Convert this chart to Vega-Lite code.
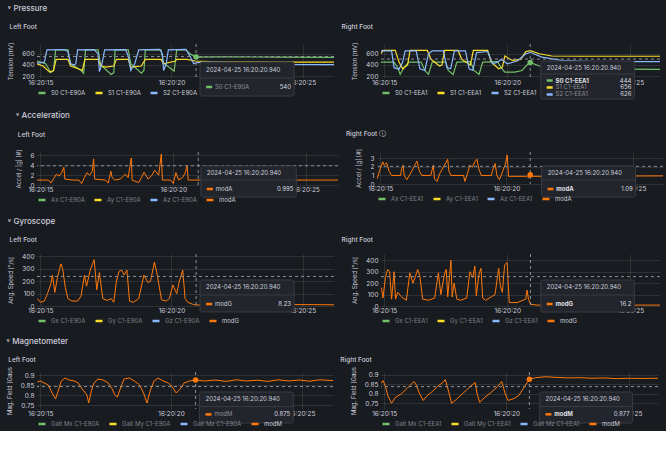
{
"$schema": "https://vega.github.io/schema/vega-lite/v6.json",
"padding": {"left": 6, "top": 4, "right": 2, "bottom": 2},
"background": "#181b1f",
"spacing": 12,
"datasets": {
"one": [{}],
"pl": [
{"s":"S0","t":14.87,"v":470},{"s":"S0","t":15.2,"v":420},{"s":"S0","t":15.4,"v":260},{"s":"S0","t":15.5,"v":300},{"s":"S0","t":15.58,"v":670},{"s":"S0","t":16.05,"v":670},{"s":"S0","t":16.15,"v":420},{"s":"S0","t":16.55,"v":300},{"s":"S0","t":16.65,"v":250},{"s":"S0","t":16.72,"v":670},{"s":"S0","t":17.2,"v":670},{"s":"S0","t":17.3,"v":400},{"s":"S0","t":17.7,"v":230},{"s":"S0","t":17.8,"v":260},{"s":"S0","t":17.85,"v":670},{"s":"S0","t":18.35,"v":670},{"s":"S0","t":18.45,"v":420},{"s":"S0","t":18.85,"v":250},{"s":"S0","t":18.95,"v":300},{"s":"S0","t":19.0,"v":670},{"s":"S0","t":19.6,"v":670},{"s":"S0","t":19.7,"v":430},{"s":"S0","t":20.1,"v":290},{"s":"S0","t":20.2,"v":670},{"s":"S0","t":20.55,"v":670},{"s":"S0","t":20.7,"v":600},{"s":"S0","t":20.94,"v":540},{"s":"S0","t":22,"v":545},{"s":"S0","t":24,"v":540},{"s":"S0","t":26.2,"v":535},
{"s":"S1","t":14.87,"v":420},{"s":"S1","t":15.1,"v":380},{"s":"S1","t":15.35,"v":270},{"s":"S1","t":15.5,"v":300},{"s":"S1","t":15.6,"v":500},{"s":"S1","t":16.05,"v":500},{"s":"S1","t":16.15,"v":380},{"s":"S1","t":16.45,"v":330},{"s":"S1","t":16.6,"v":300},{"s":"S1","t":16.7,"v":500},{"s":"S1","t":17.2,"v":500},{"s":"S1","t":17.3,"v":380},{"s":"S1","t":17.5,"v":360},{"s":"S1","t":17.8,"v":380},{"s":"S1","t":17.9,"v":500},{"s":"S1","t":18.35,"v":500},{"s":"S1","t":18.45,"v":360},{"s":"S1","t":18.85,"v":380},{"s":"S1","t":19.0,"v":500},{"s":"S1","t":19.6,"v":500},{"s":"S1","t":19.7,"v":420},{"s":"S1","t":20.15,"v":470},{"s":"S1","t":20.2,"v":500},{"s":"S1","t":20.6,"v":500},{"s":"S1","t":20.9,"v":470},{"s":"S1","t":21.5,"v":460},{"s":"S1","t":24,"v":450},{"s":"S1","t":26.2,"v":450},
{"s":"S2","t":14.87,"v":430},{"s":"S2","t":15.15,"v":450},{"s":"S2","t":15.25,"v":670},{"s":"S2","t":15.9,"v":675},{"s":"S2","t":16.05,"v":640},{"s":"S2","t":16.15,"v":420},{"s":"S2","t":16.3,"v":400},{"s":"S2","t":16.35,"v":420},{"s":"S2","t":16.42,"v":670},{"s":"S2","t":17.05,"v":675},{"s":"S2","t":17.2,"v":600},{"s":"S2","t":17.25,"v":280},{"s":"S2","t":17.35,"v":420},{"s":"S2","t":17.45,"v":670},{"s":"S2","t":18.25,"v":675},{"s":"S2","t":18.35,"v":560},{"s":"S2","t":18.45,"v":300},{"s":"S2","t":18.6,"v":420},{"s":"S2","t":18.75,"v":670},{"s":"S2","t":19.55,"v":680},{"s":"S2","t":19.65,"v":600},{"s":"S2","t":19.7,"v":300},{"s":"S2","t":19.8,"v":420},{"s":"S2","t":19.88,"v":670},{"s":"S2","t":20.55,"v":680},{"s":"S2","t":20.7,"v":560},{"s":"S2","t":20.85,"v":420},{"s":"S2","t":20.95,"v":440},{"s":"S2","t":21.5,"v":450},{"s":"S2","t":22.5,"v":440},{"s":"S2","t":24,"v":410},{"s":"S2","t":26.2,"v":405}
],
"pr": [
{"s":"S0","t":14.87,"v":450},{"s":"S0","t":15.4,"v":450},{"s":"S0","t":15.55,"v":350},{"s":"S0","t":15.65,"v":230},{"s":"S0","t":15.8,"v":350},{"s":"S0","t":16.0,"v":450},{"s":"S0","t":16.5,"v":450},{"s":"S0","t":16.65,"v":300},{"s":"S0","t":16.8,"v":230},{"s":"S0","t":16.95,"v":450},{"s":"S0","t":17.5,"v":450},{"s":"S0","t":17.6,"v":300},{"s":"S0","t":17.8,"v":230},{"s":"S0","t":17.95,"v":450},{"s":"S0","t":18.5,"v":460},{"s":"S0","t":18.65,"v":300},{"s":"S0","t":18.85,"v":230},{"s":"S0","t":19.0,"v":450},{"s":"S0","t":19.6,"v":460},{"s":"S0","t":19.75,"v":350},{"s":"S0","t":19.9,"v":270},{"s":"S0","t":20.3,"v":270},{"s":"S0","t":20.6,"v":300},{"s":"S0","t":20.8,"v":400},{"s":"S0","t":20.93,"v":444},{"s":"S0","t":21.3,"v":380},{"s":"S0","t":22,"v":350},{"s":"S0","t":23.5,"v":330},{"s":"S0","t":26.2,"v":320},
{"s":"S1","t":14.87,"v":600},{"s":"S1","t":14.95,"v":660},{"s":"S1","t":15.45,"v":660},{"s":"S1","t":15.6,"v":450},{"s":"S1","t":15.75,"v":330},{"s":"S1","t":15.95,"v":400},{"s":"S1","t":16.05,"v":660},{"s":"S1","t":16.75,"v":660},{"s":"S1","t":16.9,"v":500},{"s":"S1","t":17.25,"v":380},{"s":"S1","t":17.35,"v":400},{"s":"S1","t":17.45,"v":660},{"s":"S1","t":18.0,"v":660},{"s":"S1","t":18.15,"v":500},{"s":"S1","t":18.5,"v":400},{"s":"S1","t":18.62,"v":660},{"s":"S1","t":19.2,"v":660},{"s":"S1","t":19.35,"v":450},{"s":"S1","t":19.65,"v":330},{"s":"S1","t":19.8,"v":360},{"s":"S1","t":19.9,"v":560},{"s":"S1","t":20.2,"v":480},{"s":"S1","t":20.55,"v":500},{"s":"S1","t":20.75,"v":640},{"s":"S1","t":20.93,"v":656},{"s":"S1","t":21.3,"v":600},{"s":"S1","t":21.8,"v":560},{"s":"S1","t":23,"v":555},{"s":"S1","t":26.2,"v":555},
{"s":"S2","t":14.87,"v":650},{"s":"S2","t":15.3,"v":650},{"s":"S2","t":15.4,"v":350},{"s":"S2","t":15.6,"v":320},{"s":"S2","t":15.75,"v":450},{"s":"S2","t":15.85,"v":650},{"s":"S2","t":16.3,"v":650},{"s":"S2","t":16.45,"v":330},{"s":"S2","t":16.65,"v":300},{"s":"S2","t":16.8,"v":600},{"s":"S2","t":16.95,"v":650},{"s":"S2","t":17.4,"v":650},{"s":"S2","t":17.55,"v":350},{"s":"S2","t":17.7,"v":330},{"s":"S2","t":17.85,"v":650},{"s":"S2","t":18.3,"v":650},{"s":"S2","t":18.45,"v":330},{"s":"S2","t":18.6,"v":300},{"s":"S2","t":18.75,"v":620},{"s":"S2","t":19.2,"v":640},{"s":"S2","t":19.4,"v":420},{"s":"S2","t":19.6,"v":450},{"s":"S2","t":19.75,"v":500},{"s":"S2","t":20.0,"v":420},{"s":"S2","t":20.4,"v":470},{"s":"S2","t":20.75,"v":600},{"s":"S2","t":20.93,"v":626},{"s":"S2","t":21.4,"v":540},{"s":"S2","t":22.2,"v":480},{"s":"S2","t":23.5,"v":460},{"s":"S2","t":26.2,"v":460}
],
"al": [
{"t":14.87,"modA":1.0},{"t":15.3,"modA":1.0},{"t":15.4,"modA":0.4},{"t":15.5,"modA":1.3},{"t":15.6,"modA":2.2},{"t":15.7,"modA":1.8},{"t":15.8,"modA":2.5},{"t":15.88,"modA":3.6},{"t":15.92,"modA":1.2},{"t":16.2,"modA":1.0},{"t":16.45,"modA":1.0},{"t":16.55,"modA":0.3},{"t":16.65,"modA":1.5},{"t":16.75,"modA":2.5},{"t":16.85,"modA":2.0},{"t":16.95,"modA":2.8},{"t":17.0,"modA":5.3},{"t":17.04,"modA":1.2},{"t":17.45,"modA":1.0},{"t":17.55,"modA":0.4},{"t":17.65,"modA":2.8},{"t":17.7,"modA":1.5},{"t":17.8,"modA":1.0},{"t":18.0,"modA":1.2},{"t":18.2,"modA":2.2},{"t":18.3,"modA":1.5},{"t":18.42,"modA":5.5},{"t":18.45,"modA":1.0},{"t":18.7,"modA":0.5},{"t":18.8,"modA":1.5},{"t":18.9,"modA":2.6},{"t":19.05,"modA":1.2},{"t":19.2,"modA":2.0},{"t":19.3,"modA":3.0},{"t":19.45,"modA":2.0},{"t":19.55,"modA":6.3},{"t":19.59,"modA":1.0},{"t":19.9,"modA":1.0},{"t":20.0,"modA":0.3},{"t":20.1,"modA":2.5},{"t":20.2,"modA":1.0},{"t":20.35,"modA":1.5},{"t":20.45,"modA":2.5},{"t":20.52,"modA":3.9},{"t":20.56,"modA":1.0},{"t":26.2,"modA":1.0}
],
"ar": [
{"t":14.87,"modA":0.6},{"t":15.0,"modA":1.8},{"t":15.1,"modA":2.6},{"t":15.15,"modA":2.2},{"t":15.25,"modA":2.5},{"t":15.35,"modA":1.5},{"t":15.45,"modA":1.0},{"t":15.8,"modA":1.0},{"t":15.85,"modA":1.8},{"t":15.9,"modA":2.2},{"t":15.95,"modA":1.0},{"t":16.05,"modA":0.5},{"t":16.15,"modA":1.0},{"t":16.3,"modA":1.8},{"t":16.4,"modA":2.4},{"t":16.45,"modA":2.7},{"t":16.55,"modA":1.5},{"t":16.65,"modA":1.0},{"t":17.0,"modA":1.0},{"t":17.05,"modA":1.6},{"t":17.1,"modA":2.2},{"t":17.15,"modA":0.6},{"t":17.25,"modA":0.3},{"t":17.35,"modA":1.2},{"t":17.5,"modA":2.0},{"t":17.6,"modA":2.5},{"t":17.67,"modA":2.9},{"t":17.72,"modA":1.5},{"t":17.8,"modA":1.0},{"t":18.3,"modA":1.0},{"t":18.35,"modA":0.3},{"t":18.45,"modA":1.2},{"t":18.55,"modA":2.2},{"t":18.65,"modA":2.0},{"t":18.75,"modA":2.6},{"t":18.83,"modA":2.9},{"t":18.9,"modA":1.8},{"t":19.0,"modA":1.0},{"t":19.4,"modA":1.0},{"t":19.45,"modA":1.6},{"t":19.55,"modA":2.4},{"t":19.62,"modA":1.0},{"t":19.72,"modA":0.5},{"t":19.85,"modA":1.5},{"t":19.95,"modA":2.3},{"t":20.03,"modA":3.4},{"t":20.08,"modA":0.9},{"t":20.8,"modA":0.9},{"t":20.88,"modA":0.7},{"t":20.94,"modA":1.09},{"t":21.0,"modA":0.9},{"t":26.2,"modA":0.95}
],
"gl": [
{"t":14.88,"modG":60},{"t":15.0,"modG":30},{"t":15.15,"modG":40},{"t":15.27,"modG":100},{"t":15.4,"modG":180},{"t":15.46,"modG":250},{"t":15.55,"modG":110},{"t":15.65,"modG":230},{"t":15.78,"modG":340},{"t":15.85,"modG":300},{"t":15.95,"modG":150},{"t":16.05,"modG":60},{"t":16.2,"modG":40},{"t":16.42,"modG":40},{"t":16.55,"modG":80},{"t":16.68,"modG":250},{"t":16.76,"modG":160},{"t":16.9,"modG":290},{"t":17.05,"modG":375},{"t":17.15,"modG":130},{"t":17.25,"modG":270},{"t":17.38,"modG":60},{"t":17.55,"modG":45},{"t":17.7,"modG":60},{"t":17.8,"modG":30},{"t":17.9,"modG":200},{"t":18.0,"modG":280},{"t":18.1,"modG":290},{"t":18.2,"modG":250},{"t":18.3,"modG":290},{"t":18.4,"modG":40},{"t":18.55,"modG":30},{"t":18.75,"modG":60},{"t":18.95,"modG":250},{"t":19.1,"modG":190},{"t":19.2,"modG":200},{"t":19.35,"modG":355},{"t":19.45,"modG":260},{"t":19.62,"modG":50},{"t":19.8,"modG":40},{"t":19.92,"modG":60},{"t":20.05,"modG":170},{"t":20.2,"modG":100},{"t":20.3,"modG":200},{"t":20.43,"modG":290},{"t":20.52,"modG":60},{"t":20.62,"modG":30},{"t":20.8,"modG":15},{"t":20.94,"modG":8},{"t":22,"modG":10},{"t":24,"modG":12},{"t":26.2,"modG":10}
],
"gr": [
{"t":14.89,"modG":160},{"t":14.95,"modG":70},{"t":15.05,"modG":250},{"t":15.14,"modG":320},{"t":15.22,"modG":300},{"t":15.3,"modG":60},{"t":15.4,"modG":300},{"t":15.46,"modG":60},{"t":15.55,"modG":120},{"t":15.7,"modG":80},{"t":15.9,"modG":50},{"t":16.04,"modG":290},{"t":16.17,"modG":200},{"t":16.3,"modG":280},{"t":16.36,"modG":320},{"t":16.45,"modG":260},{"t":16.56,"modG":60},{"t":16.8,"modG":50},{"t":17.05,"modG":70},{"t":17.2,"modG":290},{"t":17.3,"modG":100},{"t":17.45,"modG":280},{"t":17.52,"modG":320},{"t":17.58,"modG":80},{"t":17.71,"modG":400},{"t":17.76,"modG":80},{"t":17.84,"modG":200},{"t":17.95,"modG":60},{"t":18.1,"modG":50},{"t":18.35,"modG":70},{"t":18.48,"modG":300},{"t":18.6,"modG":250},{"t":18.68,"modG":350},{"t":18.74,"modG":90},{"t":18.85,"modG":280},{"t":18.93,"modG":330},{"t":19.0,"modG":70},{"t":19.12,"modG":50},{"t":19.5,"modG":100},{"t":19.65,"modG":330},{"t":19.72,"modG":170},{"t":19.8,"modG":120},{"t":19.89,"modG":360},{"t":19.99,"modG":380},{"t":20.08,"modG":30},{"t":20.4,"modG":30},{"t":20.75,"modG":60},{"t":20.8,"modG":140},{"t":20.86,"modG":60},{"t":20.94,"modG":16},{"t":21.2,"modG":8},{"t":26.2,"modG":8}
],
"ml": [
{"t":14.88,"modM":0.865},{"t":15.0,"modM":0.87},{"t":15.15,"modM":0.86},{"t":15.3,"modM":0.85},{"t":15.45,"modM":0.81},{"t":15.58,"modM":0.78},{"t":15.68,"modM":0.82},{"t":15.8,"modM":0.87},{"t":15.95,"modM":0.885},{"t":16.1,"modM":0.875},{"t":16.3,"modM":0.87},{"t":16.45,"modM":0.86},{"t":16.6,"modM":0.83},{"t":16.78,"modM":0.8},{"t":16.85,"modM":0.76},{"t":16.95,"modM":0.82},{"t":17.05,"modM":0.86},{"t":17.2,"modM":0.88},{"t":17.4,"modM":0.875},{"t":17.6,"modM":0.86},{"t":17.75,"modM":0.83},{"t":17.85,"modM":0.8},{"t":17.95,"modM":0.79},{"t":18.08,"modM":0.84},{"t":18.2,"modM":0.88},{"t":18.4,"modM":0.885},{"t":18.6,"modM":0.87},{"t":18.8,"modM":0.85},{"t":18.95,"modM":0.81},{"t":19.08,"modM":0.76},{"t":19.2,"modM":0.82},{"t":19.35,"modM":0.87},{"t":19.5,"modM":0.885},{"t":19.7,"modM":0.87},{"t":19.9,"modM":0.86},{"t":20.05,"modM":0.84},{"t":20.2,"modM":0.81},{"t":20.35,"modM":0.83},{"t":20.5,"modM":0.86},{"t":20.7,"modM":0.87},{"t":20.94,"modM":0.875},{"t":21.3,"modM":0.87},{"t":21.7,"modM":0.875},{"t":22.1,"modM":0.868},{"t":22.5,"modM":0.876},{"t":22.9,"modM":0.87},{"t":23.3,"modM":0.874},{"t":23.7,"modM":0.868},{"t":24.1,"modM":0.876},{"t":24.5,"modM":0.87},{"t":24.9,"modM":0.875},{"t":25.3,"modM":0.869},{"t":25.7,"modM":0.876},{"t":26.2,"modM":0.872}
],
"mr": [
{"t":14.87,"modM":0.855},{"t":14.95,"modM":0.87},{"t":15.05,"modM":0.84},{"t":15.15,"modM":0.79},{"t":15.3,"modM":0.75},{"t":15.45,"modM":0.78},{"t":15.7,"modM":0.8},{"t":15.95,"modM":0.83},{"t":16.1,"modM":0.85},{"t":16.22,"modM":0.865},{"t":16.3,"modM":0.85},{"t":16.45,"modM":0.8},{"t":16.6,"modM":0.765},{"t":16.75,"modM":0.79},{"t":16.95,"modM":0.81},{"t":17.2,"modM":0.84},{"t":17.4,"modM":0.86},{"t":17.5,"modM":0.875},{"t":17.6,"modM":0.83},{"t":17.76,"modM":0.75},{"t":17.95,"modM":0.77},{"t":18.2,"modM":0.8},{"t":18.45,"modM":0.83},{"t":18.72,"modM":0.86},{"t":18.8,"modM":0.8},{"t":18.91,"modM":0.755},{"t":19.1,"modM":0.78},{"t":19.4,"modM":0.81},{"t":19.65,"modM":0.84},{"t":19.81,"modM":0.865},{"t":19.95,"modM":0.8},{"t":20.07,"modM":0.765},{"t":20.3,"modM":0.775},{"t":20.5,"modM":0.79},{"t":20.7,"modM":0.83},{"t":20.94,"modM":0.877},{"t":21.2,"modM":0.885},{"t":21.6,"modM":0.89},{"t":22.0,"modM":0.887},{"t":22.5,"modM":0.884},{"t":23.0,"modM":0.885},{"t":23.5,"modM":0.882},{"t":24.0,"modM":0.884},{"t":24.5,"modM":0.88},{"t":25.0,"modM":0.882},{"t":25.5,"modM":0.881},{"t":26.2,"modM":0.882}
]
},
"resolve": {"scale": {"color": "independent"}, "legend": {"color": "independent"}},
"vconcat": [
{
"title": {"text": "˅  Pressure", "fontSize": 8, "fontWeight": 500, "offset": 11},
"spacing": 6,
"resolve": {"scale": {"color": "independent"}, "legend": {"color": "independent"}},
"hconcat": [
{"title": {"text": "Left Foot", "dx": 2}, "width": 297, "height": 34,
 "layer": [
  {"data": {"name": "pl"}, "mark": {"type": "line", "strokeWidth": 1.2, "clip": true},
   "encoding": {
    "x": {"field": "t", "type": "quantitative", "scale": {"domain": [14.87, 26.2], "nice": false, "zero": false}, "axis": {"values": [15, 20, 25], "labelExpr": "'16:20:' + datum.value", "title": null}},
    "y": {"field": "v", "type": "quantitative", "scale": {"domain": [165, 775], "nice": false, "zero": false}, "axis": {"values": [200, 400, 600], "tickCount": 10, "format": "d", "labelOverlap": false, "title": "Tension [mV]"}},
    "color": {"field": "s", "type": "nominal", "scale": {"domain": ["S0", "S1", "S2"], "range": ["#73BF69", "#FADE2A", "#8AB8FF"]}, "legend": {"labelExpr": "datum.label + ' C1-E90A'"}}}},
  {"data": {"name": "one"}, "mark": {"type": "rule", "strokeDash": [3, 3], "color": "#8e9097", "strokeWidth": 1}, "encoding": {"x": {"datum": 20.94}}},
  {"data": {"name": "one"}, "mark": {"type": "rule", "strokeDash": [3, 3], "color": "#8e9097", "strokeWidth": 1}, "encoding": {"y": {"datum": 550}}},
  {"data": {"name": "one"}, "mark": {"type": "point", "filled": true, "size": 30, "color": "#73BF69", "opacity": 1}, "encoding": {"x": {"datum": 20.94}, "y": {"datum": 540}}},
  {"data": {"name": "one"}, "mark": {"type": "rect", "fill": "#22252b", "stroke": "#393c43", "strokeWidth": 1, "cornerRadius": 2, "zindex": 1}, "encoding": {"x": {"datum": 21.09}, "x2": {"datum": 24.68}, "y": {"datum": 452}, "y2": {"datum": -158}}},
  {"data": {"name": "one"}, "mark": {"type": "text", "text": "2024-04-25 16:20:20.940", "align": "left", "baseline": "middle", "fontSize": 6, "color": "#ccccdc", "zindex": 1}, "encoding": {"x": {"datum": 21.32}, "y": {"datum": 309}}},
  {"data": {"name": "one"}, "mark": {"type": "rule", "color": "#393c43", "strokeWidth": 1, "zindex": 1}, "encoding": {"x": {"datum": 21.09}, "x2": {"datum": 24.68}, "y": {"datum": 165}}},
  {"data": {"name": "one"}, "mark": {"type": "rule", "color": "#73BF69", "strokeWidth": 2.5, "zindex": 1}, "encoding": {"x": {"datum": 21.32}, "x2": {"datum": 21.55}, "y": {"datum": 4}}},
  {"data": {"name": "one"}, "mark": {"type": "text", "text": "S0 C1-E90A", "align": "left", "baseline": "middle", "fontSize": 6, "color": "#8e9097", "zindex": 1}, "encoding": {"x": {"datum": 21.66}, "y": {"datum": 4}}},
  {"data": {"name": "one"}, "mark": {"type": "text", "text": "540", "align": "right", "baseline": "middle", "fontSize": 6, "color": "#d8d9e0", "zindex": 1}, "encoding": {"x": {"datum": 24.56}, "y": {"datum": 4}}}
 ]},
{"title": {"text": "Right Foot", "dx": -10}, "width": 279, "height": 34,
 "layer": [
  {"data": {"name": "pr"}, "mark": {"type": "line", "strokeWidth": 1.2, "clip": true},
   "encoding": {
    "x": {"field": "t", "type": "quantitative", "scale": {"domain": [14.87, 26.2], "nice": false, "zero": false}, "axis": {"values": [15, 20, 25], "labelExpr": "'16:20:' + datum.value", "title": null}},
    "y": {"field": "v", "type": "quantitative", "scale": {"domain": [165, 775], "nice": false, "zero": false}, "axis": {"values": [200, 400, 600], "tickCount": 10, "format": "d", "labelOverlap": false, "title": "Tension [mV]"}},
    "color": {"field": "s", "type": "nominal", "scale": {"domain": ["S0", "S1", "S2"], "range": ["#73BF69", "#FADE2A", "#8AB8FF"]}, "legend": {"labelExpr": "datum.label + ' C1-EEA1'"}}}},
  {"data": {"name": "one"}, "mark": {"type": "rule", "strokeDash": [3, 3], "color": "#8e9097", "strokeWidth": 1}, "encoding": {"x": {"datum": 20.93}}},
  {"data": {"name": "one"}, "mark": {"type": "rule", "strokeDash": [3, 3], "color": "#8e9097", "strokeWidth": 1}, "encoding": {"y": {"datum": 505}}},
  {"data": {"name": "one"}, "mark": {"type": "point", "filled": true, "size": 30, "color": "#73BF69", "opacity": 1}, "encoding": {"x": {"datum": 20.93}, "y": {"datum": 444}}},
  {"data": {"name": "one"}, "mark": {"type": "rect", "fill": "#22252b", "stroke": "#393c43", "strokeWidth": 1, "cornerRadius": 2, "zindex": 1}, "encoding": {"x": {"datum": 21.36}, "x2": {"datum": 25.16}, "y": {"datum": 470}, "y2": {"datum": -212}}},
  {"data": {"name": "one"}, "mark": {"type": "text", "text": "2024-04-25 16:20:20.940", "align": "left", "baseline": "middle", "fontSize": 6, "color": "#ccccdc", "zindex": 1}, "encoding": {"x": {"datum": 21.6}, "y": {"datum": 344}}},
  {"data": {"name": "one"}, "mark": {"type": "rule", "color": "#393c43", "strokeWidth": 1, "zindex": 1}, "encoding": {"x": {"datum": 21.36}, "x2": {"datum": 25.16}, "y": {"datum": 237}}},
  {"data": {"name": "one"}, "mark": {"type": "rule", "color": "#73BF69", "strokeWidth": 2.5, "zindex": 1}, "encoding": {"x": {"datum": 21.6}, "x2": {"datum": 21.84}, "y": {"datum": 120}}},
  {"data": {"name": "one"}, "mark": {"type": "text", "text": "S0 C1-EEA1", "align": "left", "baseline": "middle", "fontSize": 6, "fontWeight": "bold", "color": "#e0e0e8", "zindex": 1}, "encoding": {"x": {"datum": 21.96}, "y": {"datum": 120}}},
  {"data": {"name": "one"}, "mark": {"type": "text", "text": "444", "align": "right", "baseline": "middle", "fontSize": 6, "color": "#d8d9e0", "zindex": 1}, "encoding": {"x": {"datum": 25.04}, "y": {"datum": 120}}},
  {"data": {"name": "one"}, "mark": {"type": "rule", "color": "#FADE2A", "strokeWidth": 2.5, "zindex": 1}, "encoding": {"x": {"datum": 21.6}, "x2": {"datum": 21.84}, "y": {"datum": -5}}},
  {"data": {"name": "one"}, "mark": {"type": "text", "text": "S1 C1-EEA1", "align": "left", "baseline": "middle", "fontSize": 6, "color": "#8e9097", "zindex": 1}, "encoding": {"x": {"datum": 21.96}, "y": {"datum": -5}}},
  {"data": {"name": "one"}, "mark": {"type": "text", "text": "656", "align": "right", "baseline": "middle", "fontSize": 6, "color": "#d8d9e0", "zindex": 1}, "encoding": {"x": {"datum": 25.04}, "y": {"datum": -5}}},
  {"data": {"name": "one"}, "mark": {"type": "rule", "color": "#8AB8FF", "strokeWidth": 2.5, "zindex": 1}, "encoding": {"x": {"datum": 21.6}, "x2": {"datum": 21.84}, "y": {"datum": -131}}},
  {"data": {"name": "one"}, "mark": {"type": "text", "text": "S2 C1-EEA1", "align": "left", "baseline": "middle", "fontSize": 6, "color": "#8e9097", "zindex": 1}, "encoding": {"x": {"datum": 21.96}, "y": {"datum": -131}}},
  {"data": {"name": "one"}, "mark": {"type": "text", "text": "626", "align": "right", "baseline": "middle", "fontSize": 6, "color": "#d8d9e0", "zindex": 1}, "encoding": {"x": {"datum": 25.04}, "y": {"datum": -131}}}
 ]}
]},
{
"title": {"text": "˅  Acceleration", "fontSize": 8, "fontWeight": 500, "offset": 11},
"spacing": 6,
"resolve": {"scale": {"color": "independent"}, "legend": {"color": "independent"}},
"hconcat": [
{"title": {"text": "Left Foot", "dx": 2, "offset": 9}, "width": 301, "height": 33,
 "layer": [
  {"data": {"name": "al"}, "transform": [{"fold": ["modA"], "as": ["s", "v"]}], "mark": {"type": "line", "strokeWidth": 1, "clip": true},
   "encoding": {
    "x": {"field": "t", "type": "quantitative", "scale": {"domain": [14.87, 26.2], "nice": false, "zero": false}, "axis": {"values": [15, 20, 25], "labelExpr": "'16:20:' + datum.value", "title": null}},
    "y": {"field": "v", "type": "quantitative", "scale": {"domain": [0, 6.7], "nice": false, "zero": false}, "axis": {"values": [0, 2, 4, 6], "tickCount": 10, "format": "d", "labelOverlap": false, "title": "Accel / |g|   [#]"}},
    "color": {"field": "s", "type": "nominal", "scale": {"domain": ["Ax C1-E90A", "Ay C1-E90A", "Az C1-E90A", "modA"], "range": ["#73BF69", "#FADE2A", "#8AB8FF", "#FF780A"]}, "legend": {"encode": {"labels": {"update": {"fill": {"signal": "datum.value == 'modA' ? '#ccccdc' : '#7f828a'"}}}}}}}},
  {"data": {"name": "one"}, "mark": {"type": "rule", "strokeDash": [3, 3], "color": "#8e9097", "strokeWidth": 1}, "encoding": {"x": {"datum": 20.94}}},
  {"data": {"name": "one"}, "mark": {"type": "rule", "strokeDash": [3, 3], "color": "#8e9097", "strokeWidth": 1}, "encoding": {"y": {"datum": 3.9}}},
  {"data": {"name": "one"}, "mark": {"type": "rect", "fill": "#22252b", "stroke": "#393c43", "strokeWidth": 1, "cornerRadius": 2, "zindex": 1}, "encoding": {"x": {"datum": 21.04}, "x2": {"datum": 24.63}, "y": {"datum": 3.85}, "y2": {"datum": -2.44}}},
  {"data": {"name": "one"}, "mark": {"type": "text", "text": "2024-04-25 16:20:20.940", "align": "left", "baseline": "middle", "fontSize": 6, "color": "#ccccdc", "zindex": 1}, "encoding": {"x": {"datum": 21.26}, "y": {"datum": 2.43}}},
  {"data": {"name": "one"}, "mark": {"type": "rule", "color": "#393c43", "strokeWidth": 1, "zindex": 1}, "encoding": {"x": {"datum": 21.04}, "x2": {"datum": 24.63}, "y": {"datum": 1.01}}},
  {"data": {"name": "one"}, "mark": {"type": "rule", "color": "#FF780A", "strokeWidth": 2.5, "zindex": 1}, "encoding": {"x": {"datum": 21.26}, "x2": {"datum": 21.49}, "y": {"datum": -0.82}}},
  {"data": {"name": "one"}, "mark": {"type": "text", "text": "modA", "align": "left", "baseline": "middle", "fontSize": 6, "color": "#ccccdc", "zindex": 1}, "encoding": {"x": {"datum": 21.6}, "y": {"datum": -0.82}}},
  {"data": {"name": "one"}, "mark": {"type": "text", "text": "0.995", "align": "right", "baseline": "middle", "fontSize": 6, "color": "#d8d9e0", "zindex": 1}, "encoding": {"x": {"datum": 24.52}, "y": {"datum": -0.82}}}
 ]},
{"title": {"text": "Right Foot  ⓘ", "dx": -10, "offset": 9}, "width": 286, "height": 32,
 "layer": [
  {"data": {"name": "ar"}, "transform": [{"fold": ["modA"], "as": ["s", "v"]}], "mark": {"type": "line", "strokeWidth": 1, "clip": true},
   "encoding": {
    "x": {"field": "t", "type": "quantitative", "scale": {"domain": [14.87, 26.2], "nice": false, "zero": false}, "axis": {"values": [15, 20, 25], "labelExpr": "'16:20:' + datum.value", "title": null}},
    "y": {"field": "v", "type": "quantitative", "scale": {"domain": [0, 3.75], "nice": false, "zero": false}, "axis": {"values": [0, 1, 2, 3], "tickCount": 10, "format": "d", "labelOverlap": false, "title": "Accel / |g|   [#]"}},
    "color": {"field": "s", "type": "nominal", "scale": {"domain": ["Ax C1-EEA1", "Ay C1-EEA1", "Az C1-EEA1", "modA"], "range": ["#73BF69", "#FADE2A", "#8AB8FF", "#FF780A"]}, "legend": {"encode": {"labels": {"update": {"fill": {"signal": "datum.value == 'modA' ? '#ccccdc' : '#7f828a'"}}}}}}}},
  {"data": {"name": "one"}, "mark": {"type": "rule", "strokeDash": [3, 3], "color": "#8e9097", "strokeWidth": 1}, "encoding": {"x": {"datum": 20.94}}},
  {"data": {"name": "one"}, "mark": {"type": "rule", "strokeDash": [3, 3], "color": "#8e9097", "strokeWidth": 1}, "encoding": {"y": {"datum": 2.07}}},
  {"data": {"name": "one"}, "mark": {"type": "point", "filled": true, "size": 30, "color": "#FF780A", "opacity": 1}, "encoding": {"x": {"datum": 20.94}, "y": {"datum": 1.09}}},
  {"data": {"name": "one"}, "mark": {"type": "rect", "fill": "#22252b", "stroke": "#393c43", "strokeWidth": 1, "cornerRadius": 2, "zindex": 1}, "encoding": {"x": {"datum": 21.39}, "x2": {"datum": 25.11}, "y": {"datum": 2.1}, "y2": {"datum": -1.53}}},
  {"data": {"name": "one"}, "mark": {"type": "text", "text": "2024-04-25 16:20:20.940", "align": "left", "baseline": "middle", "fontSize": 6, "color": "#ccccdc", "zindex": 1}, "encoding": {"x": {"datum": 21.63}, "y": {"datum": 1.28}}},
  {"data": {"name": "one"}, "mark": {"type": "rule", "color": "#393c43", "strokeWidth": 1, "zindex": 1}, "encoding": {"x": {"datum": 21.39}, "x2": {"datum": 25.11}, "y": {"datum": 0.46}}},
  {"data": {"name": "one"}, "mark": {"type": "rule", "color": "#FF780A", "strokeWidth": 2.5, "zindex": 1}, "encoding": {"x": {"datum": 21.63}, "x2": {"datum": 21.86}, "y": {"datum": -0.59}}},
  {"data": {"name": "one"}, "mark": {"type": "text", "text": "modA", "align": "left", "baseline": "middle", "fontSize": 6, "fontWeight": "bold", "color": "#e0e0e8", "zindex": 1}, "encoding": {"x": {"datum": 21.97}, "y": {"datum": -0.59}}},
  {"data": {"name": "one"}, "mark": {"type": "text", "text": "1.09", "align": "right", "baseline": "middle", "fontSize": 6, "color": "#d8d9e0", "zindex": 1}, "encoding": {"x": {"datum": 25.0}, "y": {"datum": -0.59}}}
 ]}
]},
{
"title": {"text": "˅  Gyroscope", "fontSize": 8, "fontWeight": 500, "offset": 11},
"spacing": 6,
"resolve": {"scale": {"color": "independent"}, "legend": {"color": "independent"}},
"hconcat": [
{"title": {"text": "Left Foot", "dx": 2, "offset": 10}, "width": 297, "height": 52,
 "layer": [
  {"data": {"name": "gl"}, "transform": [{"fold": ["modG"], "as": ["s", "v"]}], "mark": {"type": "line", "strokeWidth": 1, "clip": true},
   "encoding": {
    "x": {"field": "t", "type": "quantitative", "scale": {"domain": [14.87, 26.2], "nice": false, "zero": false}, "axis": {"values": [15, 20, 25], "labelExpr": "'16:20:' + datum.value", "title": null}},
    "y": {"field": "v", "type": "quantitative", "scale": {"domain": [0, 420], "nice": false, "zero": false}, "axis": {"values": [0, 100, 200, 300, 400], "tickCount": 10, "format": "d", "labelOverlap": false, "title": "Ang. Speed [°/s]"}},
    "color": {"field": "s", "type": "nominal", "scale": {"domain": ["Gx C1-E90A", "Gy C1-E90A", "Gz C1-E90A", "modG"], "range": ["#73BF69", "#FADE2A", "#8AB8FF", "#FF780A"]}, "legend": {"encode": {"labels": {"update": {"fill": {"signal": "datum.value == 'modG' ? '#ccccdc' : '#7f828a'"}}}}}}}},
  {"data": {"name": "one"}, "mark": {"type": "rule", "strokeDash": [3, 3], "color": "#8e9097", "strokeWidth": 1}, "encoding": {"x": {"datum": 20.94}}},
  {"data": {"name": "one"}, "mark": {"type": "rule", "strokeDash": [3, 3], "color": "#8e9097", "strokeWidth": 1}, "encoding": {"y": {"datum": 239}}},
  {"data": {"name": "one"}, "mark": {"type": "rect", "fill": "#22252b", "stroke": "#393c43", "strokeWidth": 1, "cornerRadius": 2, "zindex": 1}, "encoding": {"x": {"datum": 21.09}, "x2": {"datum": 24.68}, "y": {"datum": 210}, "y2": {"datum": -48}}},
  {"data": {"name": "one"}, "mark": {"type": "text", "text": "2024-04-25 16:20:20.940", "align": "left", "baseline": "middle", "fontSize": 6, "color": "#ccccdc", "zindex": 1}, "encoding": {"x": {"datum": 21.32}, "y": {"datum": 153}}},
  {"data": {"name": "one"}, "mark": {"type": "rule", "color": "#393c43", "strokeWidth": 1, "zindex": 1}, "encoding": {"x": {"datum": 21.09}, "x2": {"datum": 24.68}, "y": {"datum": 89}}},
  {"data": {"name": "one"}, "mark": {"type": "rule", "color": "#FF780A", "strokeWidth": 2.5, "zindex": 1}, "encoding": {"x": {"datum": 21.32}, "x2": {"datum": 21.55}, "y": {"datum": 16}}},
  {"data": {"name": "one"}, "mark": {"type": "text", "text": "modG", "align": "left", "baseline": "middle", "fontSize": 6, "color": "#ccccdc", "zindex": 1}, "encoding": {"x": {"datum": 21.66}, "y": {"datum": 16}}},
  {"data": {"name": "one"}, "mark": {"type": "text", "text": "8.23", "align": "right", "baseline": "middle", "fontSize": 6, "color": "#d8d9e0", "zindex": 1}, "encoding": {"x": {"datum": 24.56}, "y": {"datum": 16}}}
 ]},
{"title": {"text": "Right Foot", "dx": -10, "offset": 10}, "width": 279, "height": 52,
 "layer": [
  {"data": {"name": "gr"}, "transform": [{"fold": ["modG"], "as": ["s", "v"]}], "mark": {"type": "line", "strokeWidth": 1, "clip": true},
   "encoding": {
    "x": {"field": "t", "type": "quantitative", "scale": {"domain": [14.87, 26.2], "nice": false, "zero": false}, "axis": {"values": [15, 20, 25], "labelExpr": "'16:20:' + datum.value", "title": null}},
    "y": {"field": "v", "type": "quantitative", "scale": {"domain": [0, 455], "nice": false, "zero": false}, "axis": {"values": [0, 100, 200, 300, 400], "tickCount": 10, "format": "d", "labelOverlap": false, "title": "Ang. Speed [°/s]"}},
    "color": {"field": "s", "type": "nominal", "scale": {"domain": ["Gx C1-EEA1", "Gy C1-EEA1", "Gz C1-EEA1", "modG"], "range": ["#73BF69", "#FADE2A", "#8AB8FF", "#FF780A"]}, "legend": {"encode": {"labels": {"update": {"fill": {"signal": "datum.value == 'modG' ? '#ccccdc' : '#7f828a'"}}}}}}}},
  {"data": {"name": "one"}, "mark": {"type": "rule", "strokeDash": [3, 3], "color": "#8e9097", "strokeWidth": 1}, "encoding": {"x": {"datum": 20.94}}},
  {"data": {"name": "one"}, "mark": {"type": "rule", "strokeDash": [3, 3], "color": "#8e9097", "strokeWidth": 1}, "encoding": {"y": {"datum": 257}}},
  {"data": {"name": "one"}, "mark": {"type": "rect", "fill": "#22252b", "stroke": "#393c43", "strokeWidth": 1, "cornerRadius": 2, "zindex": 1}, "encoding": {"x": {"datum": 21.36}, "x2": {"datum": 25.16}, "y": {"datum": 227.5}, "y2": {"datum": -52.5}}},
  {"data": {"name": "one"}, "mark": {"type": "text", "text": "2024-04-25 16:20:20.940", "align": "left", "baseline": "middle", "fontSize": 6, "color": "#ccccdc", "zindex": 1}, "encoding": {"x": {"datum": 21.6}, "y": {"datum": 166}}},
  {"data": {"name": "one"}, "mark": {"type": "rule", "color": "#393c43", "strokeWidth": 1, "zindex": 1}, "encoding": {"x": {"datum": 21.36}, "x2": {"datum": 25.16}, "y": {"datum": 96}}},
  {"data": {"name": "one"}, "mark": {"type": "rule", "color": "#FF780A", "strokeWidth": 2.5, "zindex": 1}, "encoding": {"x": {"datum": 21.6}, "x2": {"datum": 21.84}, "y": {"datum": 17.5}}},
  {"data": {"name": "one"}, "mark": {"type": "text", "text": "modG", "align": "left", "baseline": "middle", "fontSize": 6, "fontWeight": "bold", "color": "#e0e0e8", "zindex": 1}, "encoding": {"x": {"datum": 21.96}, "y": {"datum": 17.5}}},
  {"data": {"name": "one"}, "mark": {"type": "text", "text": "16.2", "align": "right", "baseline": "middle", "fontSize": 6, "color": "#d8d9e0", "zindex": 1}, "encoding": {"x": {"datum": 25.04}, "y": {"datum": 17.5}}}
 ]}
]},
{
"title": {"text": "˅  Magnetometer", "fontSize": 8, "fontWeight": 500, "offset": 11},
"spacing": 6,
"resolve": {"scale": {"color": "independent"}, "legend": {"color": "independent"}},
"hconcat": [
{"title": {"text": "Left Foot", "dx": 2, "offset": 3}, "width": 296, "height": 37,
 "layer": [
  {"data": {"name": "ml"}, "transform": [{"fold": ["modM"], "as": ["s", "v"]}], "mark": {"type": "line", "strokeWidth": 1, "clip": true},
   "encoding": {
    "x": {"field": "t", "type": "quantitative", "scale": {"domain": [14.87, 26.2], "nice": false, "zero": false}, "axis": {"values": [15, 20, 25], "labelExpr": "'16:20:' + datum.value", "title": null}},
    "y": {"field": "v", "type": "quantitative", "scale": {"domain": [0.73, 0.915], "nice": false, "zero": false}, "axis": {"values": [0.75, 0.8, 0.85, 0.9], "tickCount": 10, "labelOverlap": false, "format": ".2~f", "title": "Mag. Field [Gaus"}},
    "color": {"field": "s", "type": "nominal", "scale": {"domain": ["Gait Mx C1-E90A", "Gait My C1-E90A", "Gait Mz C1-E90A", "modM"], "range": ["#73BF69", "#FADE2A", "#8AB8FF", "#FF780A"]}, "legend": {"encode": {"labels": {"update": {"fill": {"signal": "datum.value == 'modM' ? '#ccccdc' : '#7f828a'"}}}}}}}},
  {"data": {"name": "one"}, "mark": {"type": "rule", "strokeDash": [3, 3], "color": "#8e9097", "strokeWidth": 1}, "encoding": {"x": {"datum": 20.94}}},
  {"data": {"name": "one"}, "mark": {"type": "rule", "strokeDash": [3, 3], "color": "#8e9097", "strokeWidth": 1}, "encoding": {"y": {"datum": 0.842}}},
  {"data": {"name": "one"}, "mark": {"type": "point", "filled": true, "size": 30, "color": "#FF780A", "opacity": 1}, "encoding": {"x": {"datum": 20.94}, "y": {"datum": 0.875}}},
  {"data": {"name": "one"}, "mark": {"type": "rect", "fill": "#22252b", "stroke": "#393c43", "strokeWidth": 1, "cornerRadius": 2, "zindex": 1}, "encoding": {"x": {"datum": 21.09}, "x2": {"datum": 24.68}, "y": {"datum": 0.815}, "y2": {"datum": 0.66}}},
  {"data": {"name": "one"}, "mark": {"type": "text", "text": "2024-04-25 16:20:20.940", "align": "left", "baseline": "middle", "fontSize": 6, "color": "#ccccdc", "zindex": 1}, "encoding": {"x": {"datum": 21.32}, "y": {"datum": 0.78}}},
  {"data": {"name": "one"}, "mark": {"type": "rule", "color": "#393c43", "strokeWidth": 1, "zindex": 1}, "encoding": {"x": {"datum": 21.09}, "x2": {"datum": 24.68}, "y": {"datum": 0.742}}},
  {"data": {"name": "one"}, "mark": {"type": "rule", "color": "#FF780A", "strokeWidth": 2.5, "zindex": 1}, "encoding": {"x": {"datum": 21.32}, "x2": {"datum": 21.55}, "y": {"datum": 0.703}}},
  {"data": {"name": "one"}, "mark": {"type": "text", "text": "modM", "align": "left", "baseline": "middle", "fontSize": 6, "color": "#8e9097", "zindex": 1}, "encoding": {"x": {"datum": 21.66}, "y": {"datum": 0.703}}},
  {"data": {"name": "one"}, "mark": {"type": "text", "text": "0.875", "align": "right", "baseline": "middle", "fontSize": 6, "color": "#d8d9e0", "zindex": 1}, "encoding": {"x": {"datum": 24.56}, "y": {"datum": 0.703}}}
 ]},
{"title": {"text": "Right Foot", "dx": -10, "offset": 3}, "width": 277, "height": 37,
 "layer": [
  {"data": {"name": "mr"}, "transform": [{"fold": ["modM"], "as": ["s", "v"]}], "mark": {"type": "line", "strokeWidth": 1, "clip": true},
   "encoding": {
    "x": {"field": "t", "type": "quantitative", "scale": {"domain": [14.87, 26.2], "nice": false, "zero": false}, "axis": {"values": [15, 20, 25], "labelExpr": "'16:20:' + datum.value", "title": null}},
    "y": {"field": "v", "type": "quantitative", "scale": {"domain": [0.72, 0.915], "nice": false, "zero": false}, "axis": {"values": [0.75, 0.8, 0.85, 0.9], "tickCount": 10, "labelOverlap": false, "format": ".2~f", "title": "Mag. Field [Gaus"}},
    "color": {"field": "s", "type": "nominal", "scale": {"domain": ["Gait Mx C1-EEA1", "Gait My C1-EEA1", "Gait Mz C1-EEA1", "modM"], "range": ["#73BF69", "#FADE2A", "#8AB8FF", "#FF780A"]}, "legend": {"encode": {"labels": {"update": {"fill": {"signal": "datum.value == 'modM' ? '#ccccdc' : '#7f828a'"}}}}}}}},
  {"data": {"name": "one"}, "mark": {"type": "rule", "strokeDash": [3, 3], "color": "#8e9097", "strokeWidth": 1}, "encoding": {"x": {"datum": 20.94}}},
  {"data": {"name": "one"}, "mark": {"type": "rule", "strokeDash": [3, 3], "color": "#8e9097", "strokeWidth": 1}, "encoding": {"y": {"datum": 0.838}}},
  {"data": {"name": "one"}, "mark": {"type": "point", "filled": true, "size": 30, "color": "#FF780A", "opacity": 1}, "encoding": {"x": {"datum": 20.94}, "y": {"datum": 0.877}}},
  {"data": {"name": "one"}, "mark": {"type": "rect", "fill": "#22252b", "stroke": "#393c43", "strokeWidth": 1, "cornerRadius": 2, "zindex": 1}, "encoding": {"x": {"datum": 21.36}, "x2": {"datum": 25.16}, "y": {"datum": 0.8096}, "y2": {"datum": 0.646}}},
  {"data": {"name": "one"}, "mark": {"type": "text", "text": "2024-04-25 16:20:20.940", "align": "left", "baseline": "middle", "fontSize": 6, "color": "#ccccdc", "zindex": 1}, "encoding": {"x": {"datum": 21.6}, "y": {"datum": 0.773}}},
  {"data": {"name": "one"}, "mark": {"type": "rule", "color": "#393c43", "strokeWidth": 1, "zindex": 1}, "encoding": {"x": {"datum": 21.36}, "x2": {"datum": 25.16}, "y": {"datum": 0.733}}},
  {"data": {"name": "one"}, "mark": {"type": "rule", "color": "#FF780A", "strokeWidth": 2.5, "zindex": 1}, "encoding": {"x": {"datum": 21.6}, "x2": {"datum": 21.84}, "y": {"datum": 0.692}}},
  {"data": {"name": "one"}, "mark": {"type": "text", "text": "modM", "align": "left", "baseline": "middle", "fontSize": 6, "fontWeight": "bold", "color": "#e0e0e8", "zindex": 1}, "encoding": {"x": {"datum": 21.96}, "y": {"datum": 0.692}}},
  {"data": {"name": "one"}, "mark": {"type": "text", "text": "0.877", "align": "right", "baseline": "middle", "fontSize": 6, "color": "#d8d9e0", "zindex": 1}, "encoding": {"x": {"datum": 25.04}, "y": {"datum": 0.692}}}
 ]}
]}
],
"config": {
 "font": "Inter",
 "view": {"stroke": null},
 "axis": {"labelColor": "#ccccdc", "labelFontSize": 6.5, "titleColor": "#ccccdc", "titleFontSize": 6, "titleFontWeight": "normal", "titlePadding": 8, "gridColor": "#ffffff", "gridOpacity": 0.1, "domain": false, "ticks": false, "tickSize": 0, "labelPadding": 3, "labelOverlap": false},
 "axisX": {"labelPadding": 1},
 "title": {"color": "#ccccdc", "fontSize": 6.5, "fontWeight": 500, "anchor": "start", "frame": "bounds", "offset": 12},
 "legend": {"orient": "bottom", "direction": "horizontal", "title": null, "symbolType": "stroke", "symbolStrokeWidth": 2.5, "symbolSize": 49, "labelFontSize": 6, "labelColor": "#ccccdc", "columnPadding": 4, "offset": 1.5, "labelOffset": 4, "padding": 0},
 "concat": {"spacing": 12}
}
}
